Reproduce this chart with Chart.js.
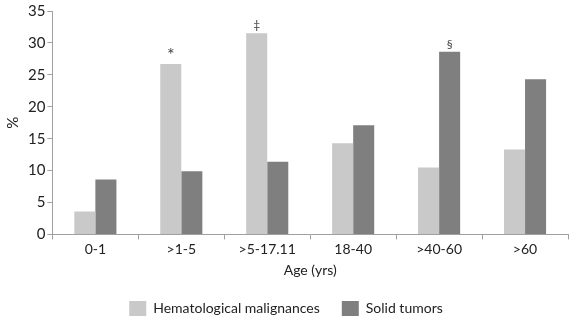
<!DOCTYPE html>
<html>
<head>
<meta charset="utf-8">
<script src="https://cdn.jsdelivr.net/npm/chart.js@4"></script>
<style>
  html, body { margin: 0; padding: 0; background: #fff; }
  .chart-container { width: 573px; height: 335px; }
</style>
</head>
<body>
<div class="chart-container">
  <canvas id="ageChart" aria-label="Bar Chart"></canvas>
</div>
<script>
const ageGroups = ['0-1', '>1-5', '>5-17.11', '18-40', '>40-60', '>60'];
const hematological = [3.6, 26.7, 31.5, 14.3, 10.5, 13.3];
const solidTumors = [8.6, 9.9, 11.4, 17.1, 28.6, 24.3];
const yTicks = [0, 5, 10, 15, 20, 25, 30, 35];
// significance marks: [dataset index, category index, symbol]
const marks = [[0, 1, '*'], [0, 2, '\u2021'], [1, 4, '\u00a7']];

const fontFamily = 'Lato, "Open Sans", sans-serif';
const axisColour = '#a0a0a0';

/* draws the little symbols above the marked bars */
const markPlugin = {
  id: 'marks',
  afterDatasetsDraw(chart) {
    const ctx = chart.ctx;
    ctx.save();
    ctx.fillStyle = '#444';
    ctx.textAlign = 'center';
    ctx.textBaseline = 'bottom';
    marks.forEach(([ds, idx, sym]) => {
      const bar = chart.getDatasetMeta(ds).data[idx];
      ctx.font = (sym === '*' ? '18px ' : '12px ') + fontFamily;
      ctx.fillText(sym, bar.x, bar.y - (sym === '*' ? 0 : 2));
    });
    ctx.restore();
  }
};

new Chart(document.getElementById('ageChart'), {
  type: 'bar',
  data: {
    labels: ageGroups,
    datasets: [
      {
        label: 'Hematological malignances',
        data: hematological,
        backgroundColor: '#c9c9c9',
        barPercentage: 1,
        categoryPercentage: 0.49
      },
      {
        label: 'Solid tumors',
        data: solidTumors,
        backgroundColor: '#7f7f7f',
        barPercentage: 1,
        categoryPercentage: 0.49
      }
    ]
  },
  plugins: [markPlugin],
  options: {
    responsive: true,
    maintainAspectRatio: false,
    animation: false,
    layout: {
      padding: { top: 8, right: 5, left: 4, bottom: 9 }
    },
    plugins: {
      legend: {
        position: 'bottom',
        labels: {
          boxWidth: 17,
          boxHeight: 15,
          padding: 22,
          color: '#222',
          font: { family: fontFamily, size: 14 }
        }
      },
      tooltip: { enabled: false }
    },
    scales: {
      x: {
        grid: {
          drawOnChartArea: false,
          color: axisColour,
          tickLength: 5
        },
        border: { color: axisColour },
        ticks: {
          color: '#222',
          font: { family: fontFamily, size: 14 },
          maxRotation: 0,
          padding: 2
        },
        title: {
          display: true,
          text: 'Age (yrs)',
          color: '#222',
          font: { family: fontFamily, size: 14 },
          padding: { top: 2, bottom: 0 }
        }
      },
      y: {
        min: 0,
        max: 35,
        afterBuildTicks: (axis) => { axis.ticks = yTicks.map(v => ({ value: v })); },
        grid: {
          drawOnChartArea: false,
          color: axisColour,
          tickLength: 5
        },
        border: { color: axisColour },
        ticks: {
          color: '#222',
          font: { family: fontFamily, size: 15 },
          padding: 2
        },
        title: {
          display: true,
          text: '%',
          color: '#222',
          font: { family: fontFamily, size: 15 },
          padding: { top: 0, bottom: 4 }
        }
      }
    }
  }
});
</script>
</body>
</html>
